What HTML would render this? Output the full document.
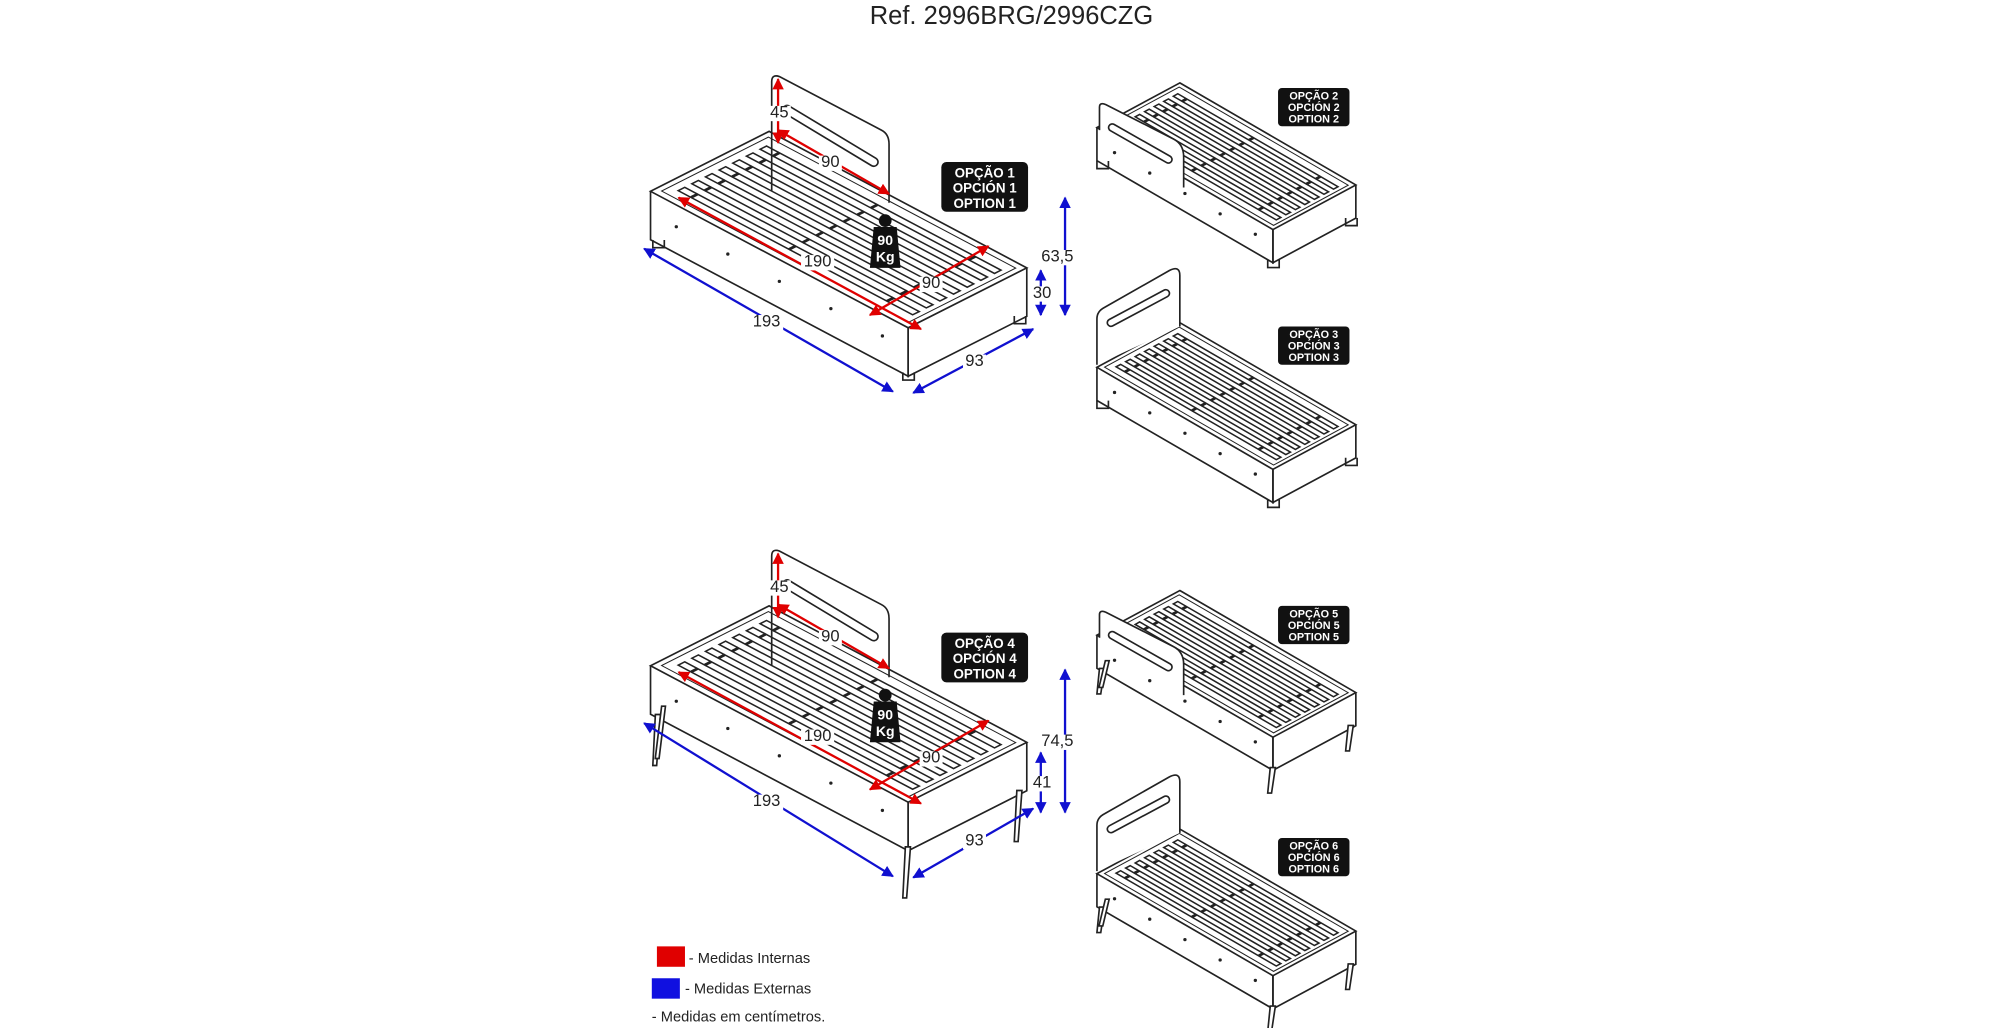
<!DOCTYPE html>
<html><head><meta charset="utf-8"><style>
html,body{margin:0;padding:0;background:#fff;}
svg{display:block;}
text{font-family:"Liberation Sans",sans-serif;}
</style></head><body>
<svg id="s" width="2000" height="1028" viewBox="0 0 1568 806" xmlns="http://www.w3.org/2000/svg">
<defs>
<marker id="ar" viewBox="0 0 10 10" refX="9" refY="5" markerWidth="5" markerHeight="5" orient="auto-start-reverse"><path d="M0,0L10,5L0,10z" fill="#e00000"/></marker>
<marker id="ab" viewBox="0 0 10 10" refX="9" refY="5" markerWidth="5" markerHeight="5" orient="auto-start-reverse"><path d="M0,0L10,5L0,10z" fill="#1010d0"/></marker>
</defs>
<text x="793" y="19" font-size="20" text-anchor="middle" fill="#222">Ref. 2996BRG/2996CZG</text>
<g id="art" fill="none" stroke="#222" stroke-width="1.3"></g>
<g id="dims"></g>
<g font-weight="bold" font-size="10.5" fill="#fff" text-anchor="middle">
<rect x="738" y="127" width="68" height="39" rx="4" fill="#111"/>
<text x="772" y="139">OPÇÃO 1</text><text x="772" y="151">OPCIÓN 1</text><text x="772" y="163">OPTION 1</text>
<rect x="738" y="496" width="68" height="39" rx="4" fill="#111"/>
<text x="772" y="508">OPÇÃO 4</text><text x="772" y="520">OPCIÓN 4</text><text x="772" y="532">OPTION 4</text>
</g>
<g font-weight="bold" font-size="8.5" fill="#fff" text-anchor="middle">
<rect x="1002" y="69" width="56" height="30" rx="3" fill="#111"/>
<text x="1030" y="78">OPÇÃO 2</text><text x="1030" y="87">OPCIÓN 2</text><text x="1030" y="96">OPTION 2</text>
<rect x="1002" y="256" width="56" height="30" rx="3" fill="#111"/>
<text x="1030" y="265">OPÇÃO 3</text><text x="1030" y="274">OPCIÓN 3</text><text x="1030" y="283">OPTION 3</text>
<rect x="1002" y="475" width="56" height="30" rx="3" fill="#111"/>
<text x="1030" y="484">OPÇÃO 5</text><text x="1030" y="493">OPCIÓN 5</text><text x="1030" y="502">OPTION 5</text>
<rect x="1002" y="657" width="56" height="30" rx="3" fill="#111"/>
<text x="1030" y="666">OPÇÃO 6</text><text x="1030" y="675">OPCIÓN 6</text><text x="1030" y="684">OPTION 6</text>
</g>
<rect x="515" y="742" width="22" height="16" fill="#e00000"/>
<text x="540" y="755" font-size="11.5" fill="#222">- Medidas Internas</text>
<rect x="511" y="767" width="22" height="16" fill="#1010e0"/>
<text x="537" y="779" font-size="11.5" fill="#222">- Medidas Externas</text>
<text x="511" y="801" font-size="11.5" fill="#222">- Medidas em centímetros.</text>
</svg>
<script>
var art=document.getElementById('art'),dims=document.getElementById('dims');
var NS='http://www.w3.org/2000/svg';
function el(p,t,a,txt){var e=document.createElementNS(NS,t);for(var k in a)e.setAttribute(k,a[k]);if(txt!=null)e.textContent=txt;p.appendChild(e);return e;}
function P(o,L,W,a,b,h){return [o[0]+L[0]*a+W[0]*b,o[1]+L[1]*a+W[1]*b+(h||0)];}
function pl(pts,closed,extra){var d='M'+pts.map(function(p){return p[0].toFixed(1)+','+p[1].toFixed(1)}).join('L')+(closed?'Z':'');var a={d:d};for(var k in extra)a[k]=extra[k];return el(art,'path',a);}
function bed(o,L,W,H,legs){
  var A=P(o,L,W,0,0),B=P(o,L,W,1,0),C=P(o,L,W,1,1),D=P(o,L,W,0,1);
  pl([A,B,C,D],true,{fill:'#fff'});
  pl([D,[D[0],D[1]+H],[C[0],C[1]+H],C]);
  pl([C,[C[0],C[1]+H],[B[0],B[1]+H],B]);
  pl([P(o,L,W,0.02,0.05),P(o,L,W,0.98,0.05),P(o,L,W,0.98,0.95),P(o,L,W,0.02,0.95)],true,{'stroke-width':0.8});
  for(var i=0;i<7;i++){var w=0.13+i*0.115;
    pl([P(o,L,W,0.05,w),P(o,L,W,0.96,w),P(o,L,W,0.96,w+0.055),P(o,L,W,0.05,w+0.055)],true,{'stroke-width':1.2,fill:'#fff'});
    for(var j=0;j<3;j++){var l=0.1+j*0.38;pl([P(o,L,W,l,w),P(o,L,W,l,w+0.055)],false,{'stroke-width':2.2});}
  }
  for(var k=0;k<5;k++){var q=P(o,L,W,0.1+k*0.2,1,H*0.45);el(art,'circle',{cx:q[0],cy:q[1],r:1.3,fill:'#222',stroke:'none'});}
  var fp=[[0,1],[1,1],[1,0]];
  fp.forEach(function(f){var q=P(o,L,W,f[0]*0.97+0.015,f[1]*0.94+0.03,H);
    if(legs){pl([[q[0]-2,q[1]],[q[0]-4,q[1]+legs],[q[0]-1,q[1]+legs],[q[0]+2,q[1]]],true,{fill:'#fff'});}
    else{pl([[q[0]-4,q[1]],[q[0]-4,q[1]+6],[q[0]+5,q[1]+6],[q[0]+5,q[1]]],false);}
  });
  if(legs){var q=P(o,L,W,0.01,0.95,H);pl([[q[0]+2,q[1]-5],[q[0]-3,q[1]+legs-4],[q[0],q[1]+legs-4],[q[0]+5,q[1]-5]],true,{fill:'#fff'});}
}
function slot(x1,y1,x2,y2,w){
  el(art,'path',{d:'M'+x1+','+y1+'L'+x2+','+y2,'stroke-width':w,'stroke-linecap':'round',stroke:'#222'});
  el(art,'path',{d:'M'+x1+','+y1+'L'+x2+','+y2,'stroke-width':w-2.6,'stroke-linecap':'round',stroke:'#fff'});
}
function headSide(x1,y1,x2,y2,top,bot){
  el(art,'path',{d:'M'+x1+','+(y1+bot)+'L'+x1+','+(y1+6)+'Q'+x1+','+y1+' '+(x1+6)+','+(y1+2)+'L'+(x2-6)+','+(y2-5)+'Q'+x2+','+(y2-2)+' '+x2+','+(y2+6)+'L'+x2+','+(y2+top)});
  slot(x1+12,y1+28,x2-12,y2+20,8);
}
function headEnd(oy){
  el(art,'path',{d:'M860,'+(oy+78)+'L860,'+(oy+42)+'Q860,'+(oy+36)+' 866,'+(oy+33)+'L917,'+(oy+4)+'Q925,'+oy+' 925,'+(oy+8)+'L925,'+(oy+48),fill:'#fff'});
  slot(871,oy+45,914,oy+22,7);
}
function guard(x1,y1,x2,y2){
  el(art,'path',{d:'M'+x1+','+(y1+22)+'L'+x1+','+(y1+4)+'Q'+x1+','+y1+' '+(x1+5)+','+(y1+2)+'L'+(x2-8)+','+(y2-8)+'Q'+x2+','+(y2-4)+' '+x2+','+(y2+6)+'L'+x2+','+(y2+30),fill:'#fff'});
  slot(x1+10,y1+20,x2-12,y2+8,7);
}
[0,372].forEach(function(dy,i){
  bed([603,103+dy],[202,107],[-93,47],38,i?40:0);
  headSide(605,58+dy,697,107+dy,52,92);
});
var sm=[[0,0],[0,188],[0,398],[0,585]];
sm.forEach(function(s,i){
  var oy=65+s[1];var legs=(i>=2)?20:0;
  bed([925,oy],[138,80],[-65,35],26,legs);
  if(i%2==0) guard(862,oy+15,928,oy+52);
  else headEnd(oy-45);
});
function arr(x1,y1,x2,y2,c){el(dims,'line',{x1:x1,y1:y1,x2:x2,y2:y2,stroke:c=='r'?'#e00000':'#1010d0','stroke-width':1.8,'marker-start':'url(#a'+c+')','marker-end':'url(#a'+c+')'});}
function lab(x,y,t){el(dims,'rect',{x:x-t.length*4-1,y:y-9,width:t.length*8+2,height:12,fill:'#fff'});el(dims,'text',{x:x,y:y,'font-size':13,'text-anchor':'middle',fill:'#222'},t);}
[[0,'63,5','30',0],[372,'74,5','41',1]].forEach(function(d){var dy=d[0];
  arr(610,62+dy,610,112+dy,'r');arr(610,102+dy,697,152+dy,'r');
  arr(532,155+dy,722,258+dy,'r');arr(682,247+dy,775,193+dy,'r');
  arr(505,195+dy,700,307+dy+(d[3]?8:0),'b');arr(716,308+dy+(d[3]?8:0),810,258+dy+(d[3]?4:0),'b');
  var top=d[3]?525:155,bot=d[3]?637:247,top2=d[3]?590:212;
  arr(835,top,835,bot,'b');arr(816,top2,816,bot,'b');
  lab(611,92+dy,'45');lab(651,131+dy,'90');lab(641,209+dy,'190');lab(730,226+dy,'90');
  lab(601,256+dy+(d[3]?4:0),'193');lab(764,287+dy+(d[3]?4:0),'93');
  lab(829,(top+bot)/2+4,d[1]);lab(817,(top2+bot)/2+4,d[2]);
  el(dims,'circle',{cx:694,cy:173+dy,r:5,fill:'#111'});
  el(dims,'path',{d:'M685,178L703,178L706,210L682,210Z',transform:'translate(0,'+dy+')',fill:'#111'});
  el(dims,'text',{x:694,y:192+dy,'font-size':11,'font-weight':'bold','text-anchor':'middle',fill:'#fff'},'90');
  el(dims,'text',{x:694,y:205+dy,'font-size':11,'font-weight':'bold','text-anchor':'middle',fill:'#fff'},'Kg');
});
</script>
</body></html>
